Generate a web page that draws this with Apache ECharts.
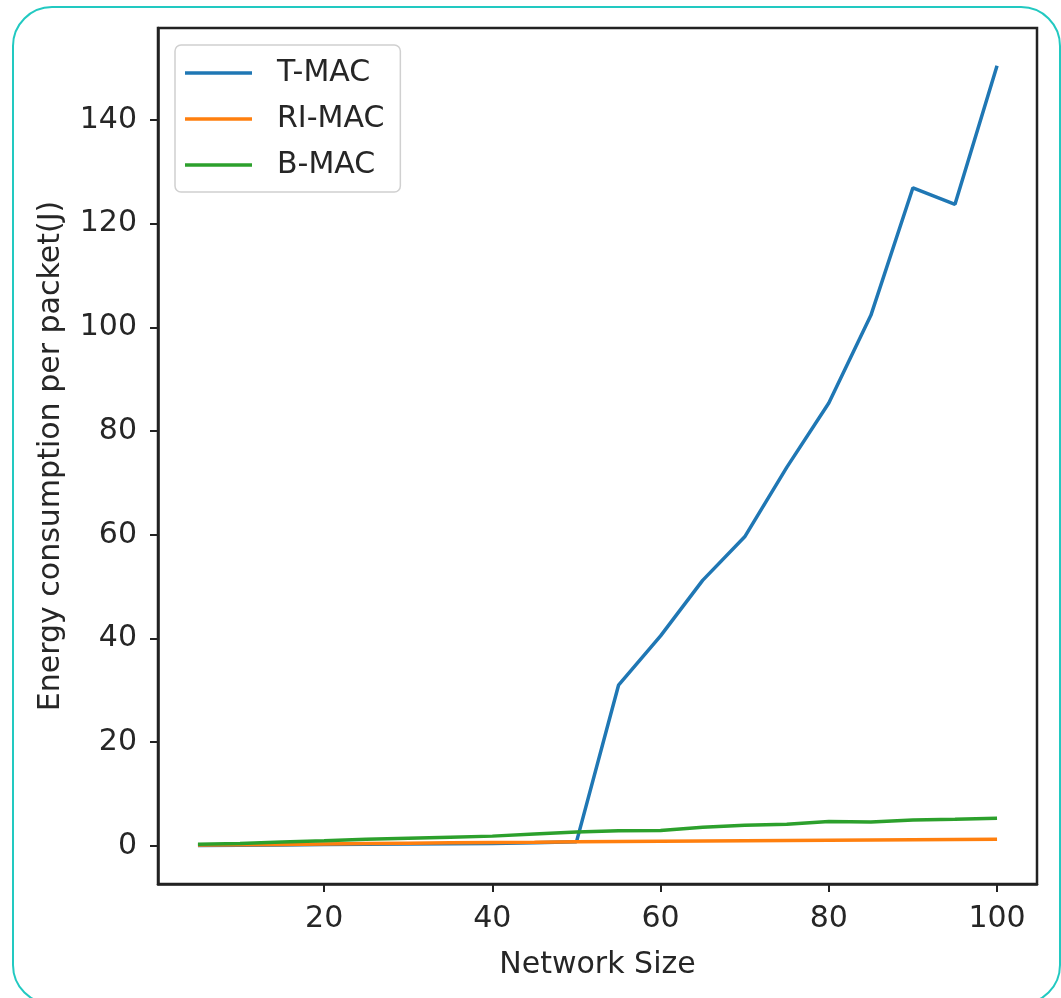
<!DOCTYPE html>
<html>
<head>
<meta charset="utf-8">
<script src="https://cdn.jsdelivr.net/npm/echarts@6/dist/echarts.min.js"></script>
<style>
  html, body { margin: 0; padding: 0; background: #fff; }
  #frame { position: absolute; left: 12px; top: 6px; width: 1045px; height: 995px;
           border: 2px solid #22c9c1; border-radius: 40px; box-sizing: content-box; }
  #chart { position: absolute; left: 0; top: 0; width: 1061px; height: 998px; }
</style>
</head>
<body>
<div id="frame"></div>
<div id="chart"></div>
<script>
const networkSize = [5, 10, 15, 20, 25, 30, 35, 40, 45, 50, 55, 60, 65, 70, 75, 80, 85, 90, 95, 100];
const tmac  = [0.1, 0.15, 0.2, 0.3, 0.35, 0.4, 0.45, 0.5, 0.6, 0.8, 31.0, 40.5, 51.2, 59.6, 73.0, 85.4, 102.3, 126.9, 123.7, 150.4];
const rimac = [0.2, 0.25, 0.3, 0.4, 0.5, 0.55, 0.6, 0.65, 0.7, 0.8, 0.85, 0.9, 0.95, 1.0, 1.05, 1.1, 1.15, 1.2, 1.25, 1.3];
const bmac  = [0.35, 0.5, 0.75, 1.0, 1.3, 1.5, 1.7, 1.9, 2.3, 2.7, 2.95, 3.0, 3.6, 4.0, 4.2, 4.7, 4.6, 5.0, 5.15, 5.35];
const xTicks = [20, 40, 60, 80, 100];
const yTicks = [0, 20, 40, 60, 80, 100, 120, 140];
const seriesNames = ['T-MAC', 'RI-MAC', 'B-MAC'];
const colors = ['#1f77b4', '#ff7f0e', '#2ca02c'];

const pairs = arr => networkSize.map((x, i) => [x, arr[i]]);
const font = 'DejaVu Sans';
const axisColor = '#222222';
const textColor = '#262626';
const fs = 30;

const chart = echarts.init(document.getElementById('chart'), null, { renderer: 'canvas' });
chart.setOption({
  backgroundColor: 'transparent',
  animation: false,
  color: colors,
  textStyle: { fontFamily: font },
  grid: { left: 158, right: 24, top: 28, bottom: 114, show: true, borderColor: axisColor, borderWidth: 2.5, backgroundColor: 'transparent' },
  legend: {
    left: 175, top: 45,
    orient: 'vertical',
    icon: 'rect',
    itemWidth: 67, itemHeight: 3.5,
    itemGap: 16,
    padding: [13, 16, 12, 10],
    borderColor: '#d0d0d0', borderWidth: 1.5, borderRadius: 6,
    backgroundColor: '#fff',
    textStyle: { fontFamily: font, fontSize: fs, color: textColor, padding: [0, 0, 0, 20] },
    data: seriesNames
  },
  xAxis: {
    type: 'value', min: 0.25, max: 104.75,
    name: 'Network Size', nameLocation: 'middle', nameGap: 66,
    nameTextStyle: { fontFamily: font, fontSize: fs, color: textColor },
    axisLine: { show: true, onZero: false, lineStyle: { color: axisColor, width: 2.5 } },
    axisTick: { show: true, length: 8, lineStyle: { color: axisColor, width: 2 }, customValues: xTicks },
    axisLabel: { fontFamily: font, fontSize: fs, color: textColor, margin: 20, customValues: xTicks },
    splitLine: { show: false }
  },
  yAxis: {
    type: 'value', min: -7.33, max: 157.7,
    name: 'Energy consumption per packet(J)', nameLocation: 'middle', nameGap: 92,
    nameTextStyle: { fontFamily: font, fontSize: fs, color: textColor },
    axisLine: { show: true, onZero: false, lineStyle: { color: axisColor, width: 2.5 } },
    axisTick: { show: true, length: 8, lineStyle: { color: axisColor, width: 2 }, customValues: yTicks },
    axisLabel: { fontFamily: font, fontSize: fs, color: textColor, margin: 21, customValues: yTicks },
    splitLine: { show: false }
  },
  series: [
    { name: seriesNames[0], type: 'line', data: pairs(tmac), showSymbol: false, symbol: 'none', lineStyle: { width: 3.5, color: colors[0] }, itemStyle: { color: colors[0] } },
    { name: seriesNames[1], type: 'line', data: pairs(rimac), showSymbol: false, symbol: 'none', lineStyle: { width: 3.5, color: colors[1] }, itemStyle: { color: colors[1] } },
    { name: seriesNames[2], type: 'line', data: pairs(bmac), showSymbol: false, symbol: 'none', lineStyle: { width: 3.5, color: colors[2] }, itemStyle: { color: colors[2] } }
  ]
});
</script>
</body>
</html>
